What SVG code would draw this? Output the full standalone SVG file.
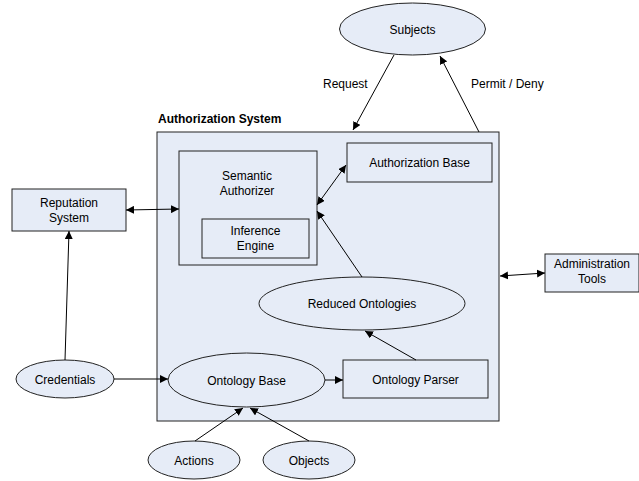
<svg xmlns="http://www.w3.org/2000/svg" width="639" height="481" viewBox="0 0 639 481">
<defs>
<style>
.n{fill:#e6ecf7;stroke:#222;stroke-width:1}
.c{fill:none;stroke:#000;stroke-width:1}
text{font-family:"Liberation Sans",Arial,sans-serif;font-size:12px;fill:#000;text-anchor:middle}
.b{font-weight:bold;text-anchor:start}
.l{text-anchor:start}
</style>
<marker id="a" viewBox="0 0 10 10" refX="10" refY="5" markerWidth="8" markerHeight="8" markerUnits="userSpaceOnUse" orient="auto-start-reverse">
<path d="M0,0 L10,5 L0,10 z" fill="#000"/>
</marker>
</defs>
<rect width="639" height="481" fill="#fff"/>
<g id="authorization-system">
<rect class="n" x="157" y="132" width="342" height="289"/>
<text class="b" x="158" y="123">Authorization System</text>
</g>
<g id="subjects">
<ellipse class="n" cx="412.5" cy="29" rx="73" ry="26"/>
<text x="412.5" y="33.5">Subjects</text>
</g>
<g id="authorization-base">
<rect class="n" x="347" y="143" width="145" height="39"/>
<text x="419.5" y="167">Authorization Base</text>
</g>
<g id="semantic-authorizer">
<rect class="n" x="179" y="151" width="138" height="114"/>
<text x="247" y="180">Semantic</text>
<text x="247" y="195">Authorizer</text>
</g>
<g id="inference-engine">
<rect class="n" x="202" y="219" width="107" height="39"/>
<text x="255.5" y="235">Inference</text>
<text x="255.5" y="250">Engine</text>
</g>
<g id="reputation-system">
<rect class="n" x="12" y="189" width="114" height="42"/>
<text x="69" y="207">Reputation</text>
<text x="69" y="222">System</text>
</g>
<g id="reduced-ontologies">
<ellipse class="n" cx="362" cy="303.5" rx="103" ry="26.5"/>
<text x="362" y="308">Reduced Ontologies</text>
</g>
<g id="ontology-base">
<ellipse class="n" cx="246.5" cy="380" rx="78.5" ry="27"/>
<text x="246.5" y="384.5">Ontology Base</text>
</g>
<g id="ontology-parser">
<rect class="n" x="343" y="360" width="145" height="38"/>
<text x="415.5" y="383.5">Ontology Parser</text>
</g>
<g id="credentials">
<ellipse class="n" cx="65" cy="379" rx="49" ry="19"/>
<text x="65" y="383.5">Credentials</text>
</g>
<g id="actions">
<ellipse class="n" cx="194" cy="460" rx="46" ry="19"/>
<text x="194" y="464.5">Actions</text>
</g>
<g id="objects">
<ellipse class="n" cx="309" cy="460" rx="46" ry="19"/>
<text x="309" y="464.5">Objects</text>
</g>
<g id="administration-tools">
<rect class="n" x="545" y="254" width="94" height="38"/>
<text x="592" y="268">Administration</text>
<text x="592" y="283">Tools</text>
</g>
<g id="connectors">
<line class="c" x1="394" y1="55" x2="353" y2="130" marker-end="url(#a)"/>
<text class="l" x="323" y="88">Request</text>
<line class="c" x1="479" y1="132" x2="440" y2="56" marker-end="url(#a)"/>
<text class="l" x="471" y="88">Permit / Deny</text>
<line class="c" x1="317" y1="205" x2="346" y2="165" marker-start="url(#a)" marker-end="url(#a)"/>
<line class="c" x1="362" y1="277" x2="317" y2="211" marker-end="url(#a)"/>
<line class="c" x1="126" y1="210" x2="179" y2="209" marker-start="url(#a)" marker-end="url(#a)"/>
<line class="c" x1="65" y1="360" x2="69" y2="231" marker-end="url(#a)"/>
<line class="c" x1="114" y1="379" x2="168" y2="379" marker-end="url(#a)"/>
<line class="c" x1="325" y1="380" x2="343" y2="380" marker-end="url(#a)"/>
<line class="c" x1="416" y1="360" x2="365" y2="331" marker-end="url(#a)"/>
<line class="c" x1="500" y1="276" x2="545" y2="273" marker-start="url(#a)" marker-end="url(#a)"/>
<line class="c" x1="195" y1="441" x2="243" y2="408" marker-end="url(#a)"/>
<line class="c" x1="309" y1="441" x2="250" y2="408" marker-end="url(#a)"/>
</g>
</svg>
